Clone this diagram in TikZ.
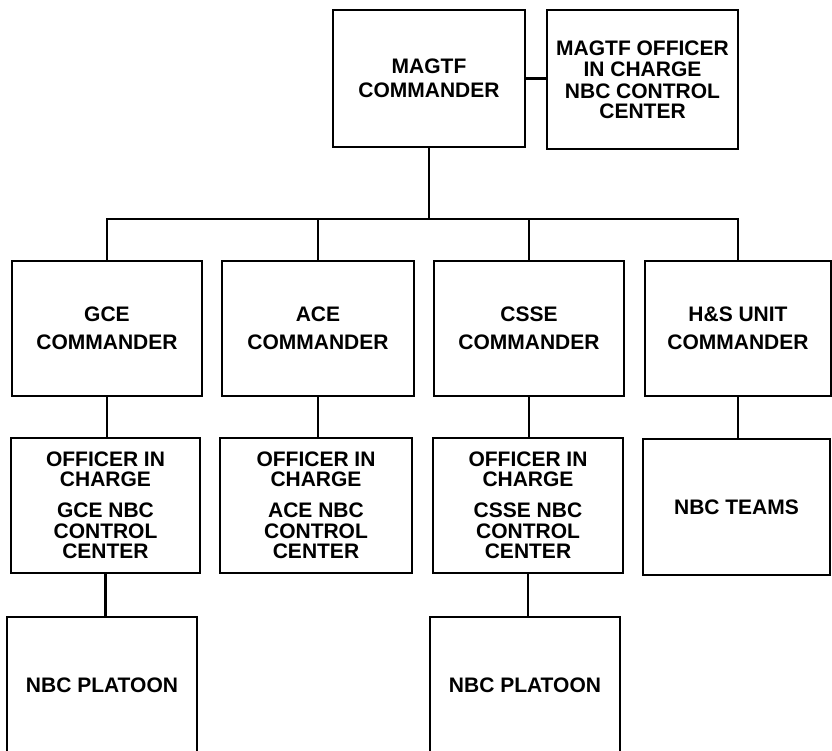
\documentclass[tikz,border=0pt]{standalone}
\usepackage{fontspec}
\setmainfont{Liberation Sans}
\begin{document}
\begin{tikzpicture}[x=1pt,y=-1pt,
  box/.style={draw, line width=2.6pt, rectangle, inner sep=0pt, align=center,
    font=\fontsize{21}{20}\selectfont\bfseries},
  link/.style={line width=2.6pt}]
\useasboundingbox (0,0) rectangle (832,750);
% top row
\node[box, minimum width=192pt, minimum height=137pt] (mag) at (429,78.5) {MAGTF\\[4pt]COMMANDER};
\node[box, minimum width=191pt, minimum height=139pt] (moff) at (642.5,79.5) {MAGTF OFFICER\\[1pt]IN CHARGE\\[2pt]NBC CONTROL\\[0pt]CENTER};
% commanders
\node[box, minimum width=190pt, minimum height=135pt] (gce) at (107,328.5) {GCE\\[8pt]COMMANDER};
\node[box, minimum width=192pt, minimum height=135pt] (ace) at (318,328.5) {ACE\\[8pt]COMMANDER};
\node[box, minimum width=190pt, minimum height=135pt] (csse) at (529,328.5) {CSSE\\[8pt]COMMANDER};
\node[box, minimum width=186pt, minimum height=135pt] (hs) at (738,328.5) {H\&S UNIT\\[8pt]COMMANDER};
% officers in charge
\node[box, minimum width=189pt, minimum height=135pt] (goff) at (105.5,505.5) {OFFICER IN\\[0pt]CHARGE\\[11pt]GCE NBC\\[1pt]CONTROL\\[0pt]CENTER};
\node[box, minimum width=192pt, minimum height=135pt] (aoff) at (316,505.5) {OFFICER IN\\[0pt]CHARGE\\[11pt]ACE NBC\\[1pt]CONTROL\\[0pt]CENTER};
\node[box, minimum width=190pt, minimum height=135pt] (coff) at (528,505.5) {OFFICER IN\\[0pt]CHARGE\\[11pt]CSSE NBC\\[1pt]CONTROL\\[0pt]CENTER};
\node[box, minimum width=187pt, minimum height=136pt] (teams) at (736.5,507) {NBC TEAMS};
% platoons
\node[box, minimum width=190pt, minimum height=136pt] (gpl) at (102,685) {NBC PLATOON};
\node[box, minimum width=190pt, minimum height=136pt] (cpl) at (525,685) {NBC PLATOON};
% connectors
\coordinate (bus) at (429,219);
\draw[link] (mag.east) -- (mag.east -| moff.west);
\draw[link] (mag.south) -- (mag.south |- bus);
\draw[link] (gce.north) |- (bus) -| (hs.north);
\draw[link] (ace.north) -- (ace.north |- bus);
\draw[link] (csse.north) -- (csse.north |- bus);
\draw[link] (gce.south) -- (gce.south |- goff.north);
\draw[link] (ace.south) -- (ace.south |- aoff.north);
\draw[link] (csse.south) -- (csse.south |- coff.north);
\draw[link] (hs.south) -- (hs.south |- teams.north);
\draw[link] (goff.south) -- (goff.south |- gpl.north);
\draw[link] (coff.south) -- (coff.south |- cpl.north);
\end{tikzpicture}
\end{document}
